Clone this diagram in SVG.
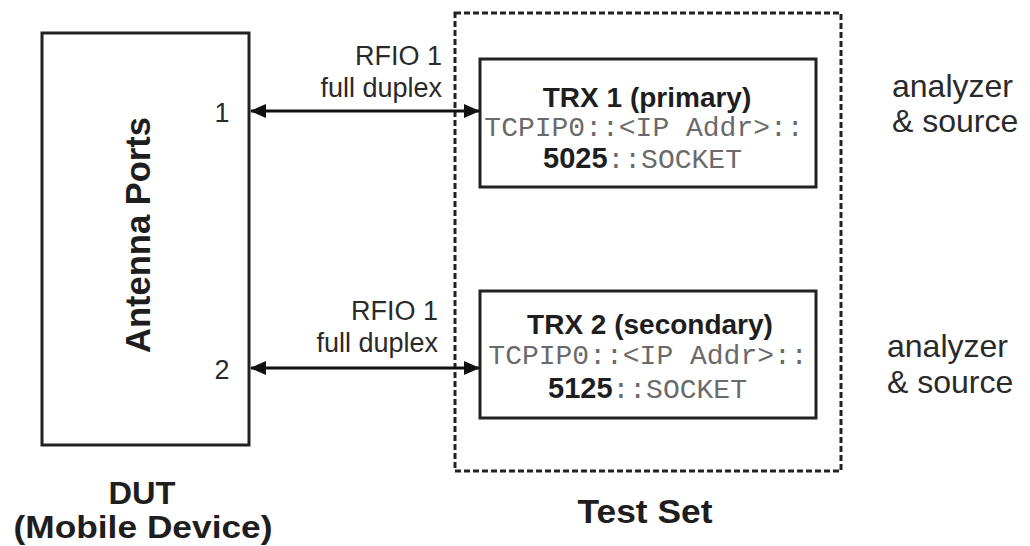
<svg xmlns="http://www.w3.org/2000/svg" width="1030" height="546" viewBox="0 0 1030 546">
  <defs>
    <style>
      .box { fill: #ffffff; stroke: #222222; stroke-width: 3; }
      .dash { fill: none; stroke: #222222; stroke-width: 3; stroke-dasharray: 6 3; }
      .conn { stroke: #111111; stroke-width: 3; fill: none; }
      .lbl { font-family: "Liberation Sans", Arial, sans-serif; font-size: 27px; fill: #2a2a2a; }
      .side { font-family: "Liberation Sans", Arial, sans-serif; font-size: 32px; fill: #2a2a2a; }
      .bold { font-family: "Liberation Sans", Arial, sans-serif; font-weight: bold; fill: #1e1e1e; }
      .mono { font-family: "Liberation Mono", "Courier New", monospace; font-size: 28px; fill: #6a6a6a; }
    </style>
    <marker id="ah" viewBox="0 0 16 14" refX="15" refY="7" markerWidth="16" markerHeight="14" markerUnits="userSpaceOnUse" orient="auto-start-reverse">
      <path d="M0,0 L16,7 L0,14 z" fill="#111111"/>
    </marker>
  </defs>

  <g id="dut">
    <rect class="box" x="42" y="33" width="207" height="412"/>
    <text class="bold" font-size="35" text-anchor="middle" transform="translate(150,235) rotate(-90)" textLength="236" lengthAdjust="spacingAndGlyphs">Antenna Ports</text>
    <text class="lbl" x="222" y="122" text-anchor="middle" font-size="31">1</text>
    <text class="lbl" x="222" y="379" text-anchor="middle" font-size="31">2</text>
    <text class="bold" font-size="31" x="142" y="504" text-anchor="middle" textLength="67" lengthAdjust="spacingAndGlyphs">DUT</text>
    <text class="bold" font-size="31" x="143" y="538" text-anchor="middle" textLength="259" lengthAdjust="spacingAndGlyphs">(Mobile Device)</text>
  </g>

  <g id="testset">
    <rect class="dash" x="455" y="13" width="386" height="458"/>
    <text class="bold" font-size="34" x="645" y="523" text-anchor="middle" textLength="135" lengthAdjust="spacingAndGlyphs">Test Set</text>
  </g>

  <g id="trx1">
    <rect class="box" x="480" y="59" width="336" height="128"/>
    <text class="bold" font-size="28" x="647" y="107" text-anchor="middle">TRX 1 (primary)</text>
    <text class="mono" x="644" y="136" text-anchor="middle">TCPIP0::&lt;IP Addr&gt;::</text>
    <text x="543" y="168"><tspan class="bold" font-size="29">5025</tspan><tspan class="mono">::SOCKET</tspan></text>
  </g>

  <g id="trx2">
    <rect class="box" x="480" y="291" width="336" height="127"/>
    <text class="bold" font-size="28" x="650" y="334" text-anchor="middle">TRX 2 (secondary)</text>
    <text class="mono" x="648" y="364" text-anchor="middle">TCPIP0::&lt;IP Addr&gt;::</text>
    <text x="548" y="398"><tspan class="bold" font-size="29">5125</tspan><tspan class="mono">::SOCKET</tspan></text>
  </g>

  <g id="role1">
    <text class="side" x="892" y="97">analyzer</text>
    <text class="side" x="892" y="132">&amp; source</text>
  </g>

  <g id="role2">
    <text class="side" x="887" y="357">analyzer</text>
    <text class="side" x="887" y="393">&amp; source</text>
  </g>

  <g id="connectors">
    <line class="conn" x1="251" y1="111" x2="479" y2="111" marker-start="url(#ah)" marker-end="url(#ah)"/>
    <line class="conn" x1="251" y1="368" x2="479" y2="368" marker-start="url(#ah)" marker-end="url(#ah)"/>
    <text class="lbl" x="442" y="65" text-anchor="end">RFIO 1</text>
    <text class="lbl" x="442" y="97" text-anchor="end">full duplex</text>
    <text class="lbl" x="438" y="320" text-anchor="end">RFIO 1</text>
    <text class="lbl" x="438" y="352" text-anchor="end">full duplex</text>
  </g>
</svg>
